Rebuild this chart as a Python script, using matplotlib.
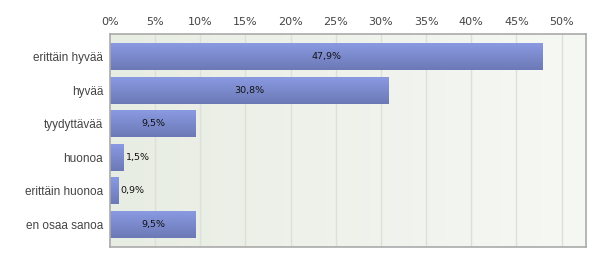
import numpy as np
import matplotlib.pyplot as plt
from matplotlib.colors import LinearSegmentedColormap

# Data
categories = ['erittäin hyvää', 'hyvää', 'tyydyttävää', 'huonoa', 'erittäin huonoa', 'en osaa sanoa']
values = [47.9, 30.8, 9.5, 1.5, 0.9, 9.5]
labels = ['47,9%', '30,8%', '9,5%', '1,5%', '0,9%', '9,5%']
x_ticks = [0, 5, 10, 15, 20, 25, 30, 35, 40, 45, 50]
x_ticklabels = [f'{t}%' for t in x_ticks]

fig = plt.figure(figsize=(6, 2.62), dpi=100)
ax = fig.add_axes([110 / 600, 1 - 247 / 262, 476 / 600, 213 / 262])

xmax = 52.7
ax.set_xlim(0, xmax)
ax.set_ylim(len(categories) - 0.33, -0.67)

# background gradient
bg = LinearSegmentedColormap.from_list('bg', ['#e8ede3', '#f6f8f4'])
ax.imshow(np.linspace(0, 1, 256).reshape(1, -1), cmap=bg, aspect='auto',
          extent=(0, 1, 0, 1), transform=ax.transAxes, zorder=0)

for t in x_ticks[1:]:
    ax.axvline(t, color='#dcdfda', lw=1, zorder=1)

# bars with vertical gradient
barmap = LinearSegmentedColormap.from_list('bar', ['#8a9ae2', '#6c79b6'])
grad = np.linspace(0, 1, 64).reshape(-1, 1)
h = 0.4
for i, v in enumerate(values):
    ax.imshow(grad, cmap=barmap, aspect='auto', extent=(0, v, i + h, i - h), zorder=2)
    if v > 5:
        ax.text(v / 2, i, labels[i], ha='center', va='center', fontsize=6.8, color='#111111', zorder=3)
    else:
        ax.text(v + 0.3, i, labels[i], ha='left', va='center', fontsize=6.8, color='#111111', zorder=3)

ax.set_yticks(range(len(categories)))
ax.set_yticklabels(categories, fontsize=8.5, color='#444444', family='Liberation Sans')
ax.xaxis.tick_top()
ax.set_xticks(x_ticks)
ax.set_xticklabels(x_ticklabels, fontsize=8, color='#444444')
ax.tick_params(axis='y', length=0, pad=5)
ax.tick_params(axis='x', length=0, pad=5)

for s in ax.spines.values():
    s.set_color('#aaaaaa')
    s.set_linewidth(1.2)

fig.savefig('out.png', dpi=100)
